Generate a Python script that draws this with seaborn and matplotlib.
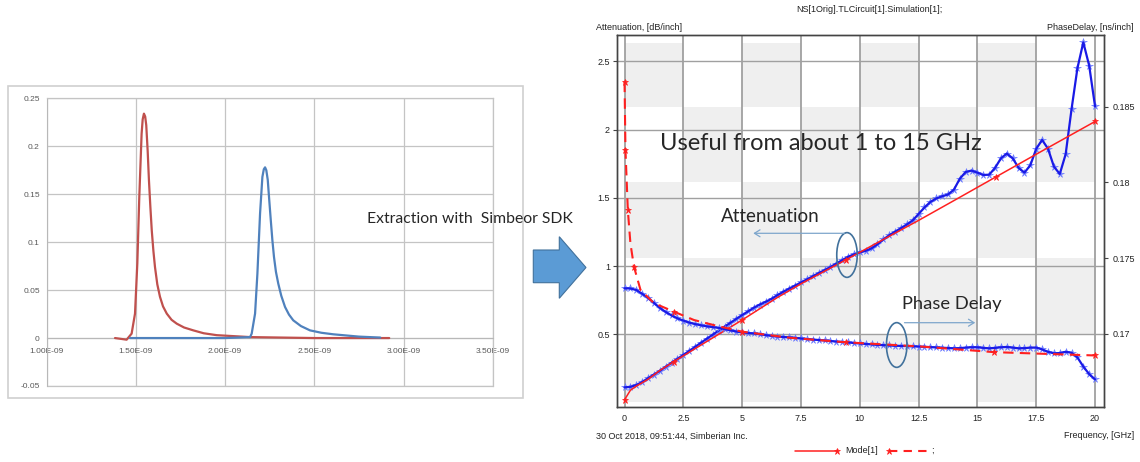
import numpy as np
import matplotlib
matplotlib.use("Agg")
import matplotlib.pyplot as plt
import seaborn as sns
from matplotlib.patches import Rectangle, Ellipse, Polygon, FancyArrowPatch
from matplotlib.lines import Line2D
from matplotlib.ticker import FuncFormatter
import matplotlib.transforms as mtransforms

# ---------------- Left chart (Excel pulses) ----------------
red_pulse_t = [1.383e-9, 1.448e-9, 1.476e-9, 1.495e-9, 1.508e-9, 1.519e-9, 1.532e-9,
               1.538e-9, 1.545e-9, 1.552e-9, 1.558e-9, 1.566e-9, 1.573e-9, 1.581e-9,
               1.589e-9, 1.598e-9, 1.607e-9, 1.620e-9, 1.635e-9, 1.652e-9, 1.673e-9,
               1.700e-9, 1.729e-9, 1.770e-9, 1.822e-9, 1.880e-9, 1.953e-9, 2.14e-9,
               2.50e-9, 2.92e-9]
red_pulse_v = [0.0, -0.0017, 0.0046, 0.0255, 0.078, 0.147, 0.213,
               0.228, 0.234, 0.231, 0.222, 0.195, 0.165, 0.137,
               0.112, 0.091, 0.074, 0.056, 0.043, 0.033, 0.0255,
               0.019, 0.015, 0.011, 0.008, 0.005, 0.003, 0.001,
               0.0, 0.0]
blue_pulse_t = [1.467e-9, 2.00e-9, 2.14e-9, 2.149e-9, 2.168e-9, 2.181e-9, 2.196e-9,
                2.209e-9, 2.217e-9, 2.224e-9, 2.231e-9, 2.239e-9, 2.247e-9, 2.256e-9,
                2.265e-9, 2.274e-9, 2.285e-9, 2.298e-9, 2.315e-9, 2.336e-9, 2.358e-9,
                2.382e-9, 2.425e-9, 2.476e-9, 2.540e-9, 2.607e-9, 2.75e-9, 2.87e-9]
blue_pulse_v = [0.0, 0.0, 0.001, 0.0046, 0.0255, 0.067, 0.130,
                0.168, 0.176, 0.178, 0.175, 0.165, 0.145, 0.123,
                0.102, 0.0846, 0.069, 0.0568, 0.044, 0.0324, 0.0245,
                0.0185, 0.0125, 0.008, 0.0055, 0.0039, 0.0015, 0.0005]
pulse_xticks = [1.0e-9, 1.5e-9, 2.0e-9, 2.5e-9, 3.0e-9, 3.5e-9]
pulse_yticks = [-0.05, 0.0, 0.05, 0.1, 0.15, 0.2, 0.25]
pulse_ylabels = ["-0.05", "0", "0.05", "0.1", "0.15", "0.2", "0.25"]

# ---------------- Right chart (Simbeor) ----------------
freq_meas = np.linspace(0, 20, 81)  # 0.25 GHz sampling grid
atten_meas = [0.111, 0.115, 0.128, 0.150, 0.178, 0.205, 0.232, 0.262, 0.291, 0.320,
              0.349, 0.378, 0.408, 0.438, 0.468, 0.497, 0.527, 0.556, 0.584, 0.613,
              0.641, 0.668, 0.695, 0.718, 0.738, 0.760, 0.787, 0.812, 0.835, 0.857,
              0.880, 0.902, 0.925, 0.948, 0.970, 0.993, 1.018, 1.043, 1.068, 1.086,
              1.100, 1.112, 1.130, 1.160, 1.195, 1.226, 1.252, 1.278, 1.305, 1.335,
              1.382, 1.430, 1.470, 1.496, 1.512, 1.525, 1.560, 1.640, 1.690, 1.700,
              1.685, 1.668, 1.670, 1.720, 1.790, 1.825, 1.790, 1.720, 1.685, 1.740,
              1.860, 1.925, 1.860, 1.730, 1.675, 1.820, 2.150, 2.450, 2.640, 2.470,
              2.170]
delay_meas = [0.17301, 0.17300, 0.17290, 0.17265, 0.17238, 0.17205, 0.17172, 0.17145, 0.17122, 0.17103,
              0.17088, 0.17075, 0.17065, 0.17057, 0.17050, 0.17045, 0.17040, 0.17032, 0.17024, 0.17016,
              0.17010, 0.17006, 0.17003, 0.16998, 0.16992, 0.16987, 0.16983, 0.16980, 0.16977, 0.16974,
              0.16970, 0.16966, 0.16963, 0.16960, 0.16957, 0.16953, 0.16950, 0.16947, 0.16944, 0.16940,
              0.16937, 0.16934, 0.16931, 0.16928, 0.16926, 0.16924, 0.16922, 0.16921, 0.16920, 0.16918,
              0.16917, 0.16915, 0.16913, 0.16911, 0.16909, 0.16907, 0.16905, 0.16906, 0.16910, 0.16912,
              0.16912, 0.16908, 0.16905, 0.16908, 0.16912, 0.16914, 0.16910, 0.16905, 0.16906, 0.16910,
              0.16910, 0.16898, 0.16882, 0.16872, 0.16874, 0.16882, 0.16876, 0.16845, 0.16785, 0.16735,
              0.16700]
freq_model_att = [0, 0.25, 0.5, 1, 1.5, 2.1, 3, 4, 5, 6.5, 7.5, 9.4, 11, 12.5, 14, 15.8, 17.5, 20]
atten_model = [0.02, 0.09, 0.12, 0.17, 0.235, 0.30, 0.395, 0.50, 0.605, 0.77, 0.87, 1.045,
               1.195, 1.335, 1.48, 1.655, 1.82, 2.06]
att_star_idx = [0, 5, 8, 11, 15, 17]
freq_model_del = [0, 0.04, 0.14, 0.25, 0.4, 0.68, 1.25, 2.1, 2.95, 3.93, 5.0, 7.0, 9.4, 12.5, 15.7, 18.0, 20]
delay_model = [0.18664, 0.18214, 0.17818, 0.17598, 0.17444, 0.1729, 0.17203, 0.17147, 0.17092,
               0.17053, 0.17015, 0.16975, 0.16945, 0.16918, 0.16880, 0.16868, 0.16858]
del_star_idx = [0, 1, 2, 4, 7, 10, 12, 14, 16]

freq_ticks = [0, 2.5, 5, 7.5, 10, 12.5, 15, 17.5, 20]
freq_labels = ["0", "2.5", "5", "7.5", "10", "12.5", "15", "17.5", "20"]
att_ticks = [0.5, 1, 1.5, 2, 2.5]
att_labels = ["0.5", "1", "1.5", "2", "2.5"]
del_ticks = [0.17, 0.175, 0.18, 0.185]
del_labels = ["0.17", "0.175", "0.18", "0.185"]

# ---------------- Figure ----------------
sns.set_style("white")
plt.rcParams['font.family'] = ['Liberation Sans', 'DejaVu Sans']
W, H = 1140, 462
fig = plt.figure(figsize=(W / 100, H / 100), dpi=100)
fig.patch.set_facecolor("white")


def fx(px):
    return px / W


def fy(py):
    return 1 - py / H


# ---- Left Excel chart ----
fig.add_artist(Rectangle((fx(8), fy(398)), (523 - 8) / W, (398 - 86) / H,
                         transform=fig.transFigure, fill=False, edgecolor="#d0d0d0", lw=1.2))
axL = fig.add_axes([fx(46.7), fy(386), (492.7 - 46.7) / W, (386 - 98.3) / H])
sns.lineplot(x=red_pulse_t, y=red_pulse_v, ax=axL, color="#c0504d", lw=1.6, zorder=3)
sns.lineplot(x=blue_pulse_t, y=blue_pulse_v, ax=axL, color="#4f81bd", lw=1.6, zorder=3)
axL.set_xlim(1.0e-9, 3.5e-9)
axL.set_ylim(-0.05, 0.25)
axL.set_xticks(pulse_xticks)
axL.xaxis.set_major_formatter(FuncFormatter(lambda v, p: f"{v:.2E}"))
axL.set_yticks(pulse_yticks)
axL.set_yticklabels(pulse_ylabels)
axL.grid(True, color="#c4c4c4", lw=0.9)
axL.set_axisbelow(True)
for s in ["top", "right"]:
    axL.spines[s].set_visible(True)
    axL.spines[s].set_color("#c4c4c4")
    axL.spines[s].set_linewidth(0.9)
axL.axhline(-0.05, color="#c4c4c4", lw=0.9, clip_on=False, zorder=0.5)
axL.spines["left"].set_color("#b8b8b8")
axL.spines["bottom"].set_position(("data", 0))
axL.spines["bottom"].set_color("#b8b8b8")
axL.tick_params(axis="y", length=3, color="#b8b8b8", labelsize=6, labelcolor="#595959", pad=2)
axL.tick_params(axis="x", length=0, labelsize=6, labelcolor="#595959", pad=7)
axL.set_xlabel("")
axL.set_ylabel("")

fig.text(fx(366.7), fy(223.3), "Extraction with  Simbeor SDK", ha="left", va="baseline",
         fontsize=11.3, color="#262626", family=["Lato", "DejaVu Sans"])

arrow_px = [(533.3, 250), (559.3, 250), (559.3, 236.7), (586, 267.5),
            (559.3, 298.3), (559.3, 282.7), (533.3, 282.7)]
fig.add_artist(Polygon([(fx(a), fy(b)) for a, b in arrow_px], closed=True,
                       transform=fig.transFigure, facecolor="#5b9bd5",
                       edgecolor="#41719c", lw=0.8))

# ---- Right Simbeor chart ----
axR = fig.add_axes([fx(617), fy(407), (1104 - 617) / W, (407 - 35) / H])
axR2 = axR.twinx()
axR.set_xlim(-0.32, 20.38)
axR.set_ylim(-0.033, 2.694)
axR2.set_ylim(0.16518, 0.18972)

# checkerboard shading
trans = mtransforms.blended_transform_factory(axR.transData, axR2.transData)
row_bounds = [0.16548, 0.17, 0.175, 0.18, 0.185, 0.1892]
for i in range(len(freq_ticks) - 1):
    for j in range(len(row_bounds) - 1):
        if (i + j) % 2 == 0:
            axR.add_patch(Rectangle((freq_ticks[i], row_bounds[j]),
                                    freq_ticks[i + 1] - freq_ticks[i],
                                    row_bounds[j + 1] - row_bounds[j],
                                    transform=trans, facecolor="#efefef",
                                    edgecolor="none", zorder=0.2))

axR.set_xticks(freq_ticks)
axR.set_xticklabels(freq_labels)
axR.set_yticks(att_ticks)
axR.set_yticklabels(att_labels)
axR2.set_yticks(del_ticks)
axR2.set_yticklabels(del_labels)
axR.grid(True, axis="x", color="#a0a0a0", lw=1.3, zorder=0.5)
axR.grid(True, axis="y", color="#a0a0a0", lw=1.0, zorder=0.5)
axR.set_axisbelow(True)

star_kw = dict(marker="*", markersize=5.5, markeredgewidth=0.4,
               markerfacecolor="#7f8dff", markeredgecolor="#6676ff")
red_star = dict(marker="*", markersize=5, markeredgewidth=0.5,
                markerfacecolor="#ff2020", markeredgecolor="#ff2020")

# attenuation (left axis)
sns.lineplot(x=freq_meas, y=atten_meas, ax=axR, color="#1a1ae6", lw=1.6, zorder=2.1)
sns.lineplot(x=freq_meas, y=atten_meas, ax=axR, color="#7f8dff", linestyle="none",
             zorder=2, **star_kw)
sns.lineplot(x=freq_model_att, y=atten_model, ax=axR, color="#ff2020", lw=1.1,
             markevery=att_star_idx, zorder=2.2, **red_star)

# phase delay (right axis)
sns.lineplot(x=freq_meas, y=delay_meas, ax=axR2, color="#1a1ae6", lw=1.6, zorder=2.1)
sns.lineplot(x=freq_meas, y=delay_meas, ax=axR2, color="#7f8dff", linestyle="none",
             zorder=2, **star_kw)
sns.lineplot(x=freq_model_del, y=delay_model, ax=axR2, color="#ff2020", lw=1.5,
             linestyle=(0, (5, 3)), markevery=del_star_idx, zorder=2.2, **red_star)

for a in (axR, axR2):
    a.set_xlabel("")
    a.set_ylabel("")
    for s in a.spines.values():
        s.set_color("#444444")
        s.set_linewidth(1.0)
axR.set_xlim(-0.32, 20.38)
axR.set_ylim(-0.033, 2.694)
axR2.set_ylim(0.16518, 0.18972)
axR.tick_params(axis="both", direction="out", length=3, width=0.8, color="#444444",
                labelsize=6.5, labelcolor="#222222", pad=2)
axR2.tick_params(axis="y", direction="out", length=3, width=0.8, color="#444444",
                 labelsize=6.5, labelcolor="#222222", pad=3)

small = dict(fontsize=6.5, color="#222222")
fig.text(fx(869), fy(10), "NS[1Orig].TLCircuit[1].Simulation[1];", ha="center", va="center", **small)
fig.text(fx(596), fy(27), "Attenuation, [dB/inch]", ha="left", va="center", **small)
fig.text(fx(1134), fy(27), "PhaseDelay, [ns/inch]", ha="right", va="center", **small)
fig.text(fx(596), fy(436), "30 Oct 2018, 09:51:44, Simberian Inc.", ha="left", va="center", **small)
fig.text(fx(1134), fy(436), "Frequency, [GHz]", ha="right", va="center", **small)

# bottom legend
fig.add_artist(Line2D([fx(795), fx(837)], [fy(450.7), fy(450.7)], transform=fig.transFigure,
                      color="#ff2020", lw=1.1, markevery=[1], **red_star))
fig.text(fx(845), fy(450.7), "Mode[1]", ha="left", va="center", **small)
fig.add_artist(Line2D([fx(889.3), fx(930)], [fy(450.7), fy(450.7)], transform=fig.transFigure,
                      color="#ff2020", lw=1.5, linestyle=(0, (4, 3)), markevery=[0], **red_star))
fig.text(fx(931.5), fy(450.7), ";", ha="left", va="center", **small)

# annotations
ann = dict(color="#262626", family=["Lato", "DejaVu Sans"])
fig.text(fx(660), fy(150), "Useful from about 1 to 15 GHz", ha="left", va="baseline",
         fontsize=17, **ann)
fig.text(fx(721), fy(222.3), "Attenuation", ha="left", va="baseline", fontsize=13.5, **ann)
fig.text(fx(902), fy(308.7), "Phase Delay", ha="left", va="baseline", fontsize=13.2, **ann)

for cx, cy in [(847, 255), (896.7, 345)]:
    fig.add_artist(Ellipse((fx(cx), fy(cy)), 20.5 / W, 44.7 / H, transform=fig.transFigure,
                           fill=False, edgecolor="#41719c", lw=1.2))
fig.add_artist(FancyArrowPatch((fx(847), fy(233.3)), (fx(750.5), fy(233.3)),
                               transform=fig.transFigure, arrowstyle="->,head_length=4,head_width=2.5",
                               color="#7ea6cc", lw=0.9, mutation_scale=1))
fig.add_artist(FancyArrowPatch((fx(901.7), fy(322.7)), (fx(978), fy(322.7)),
                               transform=fig.transFigure, arrowstyle="->,head_length=4,head_width=2.5",
                               color="#7ea6cc", lw=0.9, mutation_scale=1))

fig.savefig("out.png", dpi=100)
